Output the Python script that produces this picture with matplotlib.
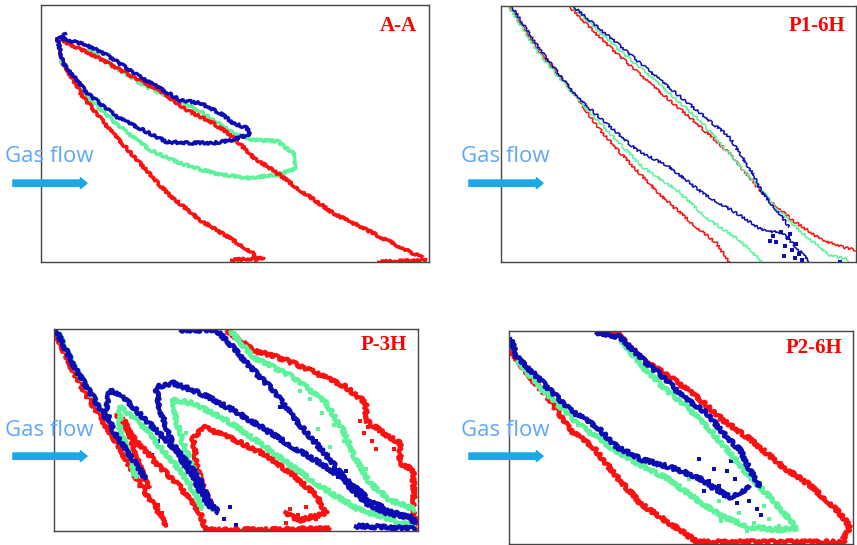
import matplotlib
matplotlib.use("Agg")
import matplotlib.pyplot as plt

RED = "#ff1010"
BLUE = "#0c0cb4"
GREEN = "#5ef29a"

# ---- section A-A (domain 388 x 257) ----
aa_red_lower = [(16, 32), (22, 58), (42, 92), (69, 125), (99, 158), (126, 188),
                (159, 215), (192, 235), (212, 248), (216, 257)]
aa_red_foot = [(189, 255), (224, 253)]
aa_red_upper = [(16, 32), (26, 38), (52, 50), (92, 72), (122, 88), (146, 105),
                (172, 118), (192, 132), (212, 152), (236, 168), (259, 185),
                (292, 208), (326, 225), (359, 242), (382, 253)]
aa_red_tail = [(336, 257), (386, 255)]
aa_blue_upper = [(26, 28), (19, 33), (46, 40), (69, 52), (99, 72), (122, 85),
                 (139, 95), (159, 98), (179, 108), (192, 118), (206, 123),
                 (209, 130), (199, 132)]
aa_blue_lower = [(16, 32), (22, 58), (46, 88), (76, 112), (102, 125), (126, 137),
                 (152, 138), (172, 138), (192, 135), (199, 132)]
aa_green_lower = [(19, 55), (49, 95), (79, 122), (109, 145), (139, 158),
                  (172, 168), (206, 173), (236, 170), (254, 164), (252, 148),
                  (236, 136), (212, 135), (192, 128)]
aa_green_upper = [(46, 44), (102, 80), (132, 94), (159, 106), (192, 128)]

# ---- section P1-6H (domain 356 x 256) ----
p1_red_a = [(9, 1), (39, 47), (72, 87), (102, 127), (129, 157), (162, 191),
            (196, 221), (216, 237), (229, 256)]
p1_green_a = [(8, 1), (38, 48), (72, 88), (106, 124), (142, 161), (176, 184),
              (209, 214), (239, 234), (262, 256)]
p1_blue_a = [(11, 1), (40, 45), (76, 91), (102, 114), (136, 144), (169, 161),
             (202, 187), (236, 207), (262, 224), (282, 227), (289, 234),
             (300, 245), (309, 256)]
p1_red_b = [(69, 1), (109, 41), (149, 77), (189, 111), (229, 147), (262, 187),
            (292, 214), (322, 234), (346, 242), (356, 244)]
p1_green_b = [(72, 1), (116, 42), (162, 81), (202, 117), (246, 167), (276, 201),
              (302, 227), (329, 249), (349, 254)]
p1_blue_b = [(73, 1), (116, 37), (156, 71), (196, 104), (229, 131), (252, 167),
             (262, 187), (279, 207), (289, 221)]
p1_blue_bits_x = [273, 276, 281, 285, 288, 292, 296, 299, 302, 284, 290, 270, 295, 340]
p1_blue_bits_y = [230, 236, 226, 240, 232, 244, 238, 248, 254, 250, 228, 235, 252, 256]

# ---- section P-3H (domain 364 x 202) ----
p3_trunk_red = [(1, 3), (20, 44), (36, 72), (50, 94)]
p3_trunk_green = [(3, 2), (23, 42), (40, 70), (54, 92)]
p3_trunk = [(2, 1), (22, 41), (39, 68), (52, 91)]
p3_red_outer = [(50, 94), (64, 116), (77, 140), (90, 162), (104, 182), (112, 198)]
p3_red_mid = [(62, 84), (79, 108), (102, 134), (126, 158), (146, 184), (152, 201),
              (200, 201), (250, 200), (276, 200)]
p3_red_loop = [(160, 182), (150, 160), (143, 138), (139, 110), (149, 98),
               (179, 110), (212, 126), (239, 146), (262, 166), (272, 184),
               (246, 191), (229, 184)]
p3_red_small = [(69, 88), (76, 106), (82, 128), (90, 148), (95, 160)]
p3_red_right = [(172, 1), (199, 21), (232, 31), (262, 44), (292, 58), (312, 74),
                (312, 91), (329, 104), (346, 114), (346, 134), (359, 141),
                (361, 201)]
p3_blue_right = [(162, 1), (179, 18), (196, 38), (219, 61), (239, 88), (259, 111),
                 (279, 134), (296, 158), (312, 174), (332, 184), (362, 189)]
p3_green_right = [(176, 1), (199, 28), (239, 48), (272, 74), (289, 101),
                  (302, 131), (316, 154), (336, 171), (362, 181)]
p3_blue_big = [(159, 181), (149, 168), (139, 148), (126, 128), (116, 108),
               (106, 81), (102, 58), (119, 54), (146, 64), (179, 81), (212, 101),
               (239, 118), (266, 134), (296, 154), (319, 174), (362, 193)]
p3_green_big = [(159, 183), (149, 161), (139, 138), (129, 114), (122, 91),
                (119, 71), (139, 74), (172, 91), (206, 114), (239, 138),
                (272, 161), (306, 181), (362, 198)]
p3_blue_small = [(92, 151), (86, 141), (72, 121), (59, 101), (52, 81), (56, 61),
                 (72, 71), (92, 91), (112, 111), (132, 131), (146, 151),
                 (156, 174), (165, 184)]
p3_green_small = [(82, 150), (76, 128), (66, 100), (66, 78), (86, 94), (106, 118),
                  (126, 141), (139, 161), (149, 181)]
p3_blue_edge = [(125, 1), (162, 1)]
p3_blue_low = [(300, 197), (330, 198), (362, 200)]
p3_red_bits_x = [306, 310, 318, 322, 314, 108, 110, 104, 112, 236, 244, 252, 262, 270, 232, 340]
p3_red_bits_y = [92, 104, 112, 120, 98, 184, 190, 176, 196, 180, 186, 178, 190, 184, 194, 120]
p3_blue_bits_x = [162, 170, 176, 182, 226, 240, 250, 262, 284, 292, 104, 110, 98]
p3_blue_bits_y = [182, 190, 178, 196, 78, 90, 102, 112, 148, 142, 112, 96, 126]
p3_green_bits_x = [246, 256, 268, 280, 290, 300, 312, 320, 264, 276, 126, 132]
p3_green_bits_y = [62, 70, 84, 96, 112, 124, 140, 160, 100, 118, 98, 104]

# ---- section P2-6H (domain 344 x 213) ----
p4_red_lower = [(1, 19), (21, 46), (41, 69), (61, 99), (84, 116), (108, 146),
                (131, 172), (151, 186), (171, 199), (188, 211)]
p4_red_floor = [(186, 211), (250, 211), (338, 211)]
p4_red_upper = [(88, 1), (108, 2), (134, 29), (161, 46), (188, 66), (214, 89),
                (238, 106), (254, 119), (274, 136), (298, 152), (321, 172),
                (334, 186), (341, 196), (334, 209)]
p4_blue_upper = [(86, 1), (111, 6), (134, 29), (154, 46), (174, 66), (198, 82),
                 (214, 102), (231, 119), (241, 139), (251, 156)]
p4_green_upper = [(111, 8), (134, 36), (154, 56), (181, 79), (201, 99),
                  (221, 122), (241, 146), (261, 166), (281, 189), (288, 199)]
p4_blue_lower = [(1, 6), (8, 26), (34, 52), (61, 79), (88, 96), (108, 116),
                 (134, 129), (161, 136), (188, 146), (208, 159), (221, 166),
                 (241, 156)]
p4_green_lower = [(8, 29), (34, 59), (68, 92), (101, 116), (128, 132),
                  (161, 149), (188, 169), (214, 186), (241, 196), (271, 199),
                  (288, 196)]
p4_blue_bits_x = [190, 200, 210, 218, 226, 234, 240, 205, 215, 228, 248, 252, 195, 222]
p4_blue_bits_y = [128, 150, 155, 140, 148, 160, 170, 138, 165, 172, 178, 184, 160, 130]
p4_green_bits_x = [170, 185, 200, 212, 230, 245, 260, 180, 210, 238, 255, 270]
p4_green_bits_y = [158, 165, 178, 190, 182, 192, 188, 148, 170, 200, 175, 195]


def trace(ax, pts, color, lw, rough=1.2):
    xs = [p[0] for p in pts]
    ys = [p[1] for p in pts]
    line, = ax.plot(xs, ys, color=color, lw=lw, solid_capstyle="butt")
    line.set_sketch_params(scale=rough, length=4, randomness=12)
    return line


def panel(rect, w, h, title):
    ax = fig.add_axes(rect)
    ax.set_xlim(0, w)
    ax.set_ylim(h, 0)
    ax.set_xticks([])
    ax.set_yticks([])
    for s in ax.spines.values():
        s.set_color("#444444")
        s.set_linewidth(1.0)
    ax.text(0.97, 0.92, title, transform=ax.transAxes, ha="right", va="center",
            color="#ff0000", fontsize=15, fontweight="bold",
            family="Liberation Serif")
    return ax


def gas_flow(x, y):
    fig.text(x, y, "Gas flow", color="#60a8f4", fontsize=16, family="Open Sans",
             va="center", ha="left", zorder=5)
    fig.add_artist(matplotlib.patches.FancyArrowPatch(
        (x + 0.006, y - 0.048), (x + 0.099, y - 0.048),
        transform=fig.transFigure, arrowstyle="simple,head_length=0.4,head_width=0.65,tail_width=0.38",
        mutation_scale=12, color="#1aa8e6", zorder=5))


fig = plt.figure(figsize=(8.57, 5.45), dpi=100)

ax1 = panel([41 / 857, 1 - 262 / 545, 388 / 857, 257 / 545], 388, 257, "A-A")
for pts, c in [(aa_green_lower, GREEN), (aa_green_upper, GREEN),
               (aa_red_lower, RED), (aa_red_foot, RED), (aa_red_upper, RED),
               (aa_red_tail, RED), (aa_blue_upper, BLUE), (aa_blue_lower, BLUE)]:
    trace(ax1, pts, c, 2.4)

ax2 = panel([501 / 857, 1 - 262 / 545, 355 / 857, 256 / 545], 356, 256, "P1-6H")
for pts, c in [(p1_red_a, RED), (p1_red_b, RED), (p1_green_a, GREEN),
               (p1_green_b, GREEN), (p1_blue_a, BLUE), (p1_blue_b, BLUE)]:
    trace(ax2, pts, c, 1.1)
ax2.scatter(p1_blue_bits_x, p1_blue_bits_y, s=5, marker="s", color=BLUE, lw=0)

ax3 = panel([54 / 857, 1 - 531 / 545, 364 / 857, 202 / 545], 364, 202, "P-3H")
for pts, c in [(p3_trunk_red, RED), (p3_red_outer, RED), (p3_red_mid, RED),
               (p3_red_loop, RED), (p3_red_small, RED), (p3_red_right, RED),
               (p3_trunk_green, GREEN), (p3_green_right, GREEN),
               (p3_green_big, GREEN), (p3_green_small, GREEN),
               (p3_trunk, BLUE), (p3_blue_right, BLUE), (p3_blue_big, BLUE),
               (p3_blue_small, BLUE), (p3_blue_edge, BLUE), (p3_blue_low, BLUE)]:
    trace(ax3, pts, c, 3.0, rough=1.8)
ax3.scatter(p3_red_bits_x, p3_red_bits_y, s=10, marker="s", color=RED, lw=0)
ax3.scatter(p3_green_bits_x, p3_green_bits_y, s=10, marker="s", color=GREEN, lw=0)
ax3.scatter(p3_blue_bits_x, p3_blue_bits_y, s=10, marker="s", color=BLUE, lw=0)

ax4 = panel([509 / 857, 1 - 544 / 545, 344 / 857, 213 / 545], 344, 213, "P2-6H")
for pts, c in [(p4_red_lower, RED), (p4_red_floor, RED), (p4_red_upper, RED),
               (p4_green_upper, GREEN), (p4_green_lower, GREEN),
               (p4_blue_upper, BLUE), (p4_blue_lower, BLUE)]:
    trace(ax4, pts, c, 3.0, rough=1.8)
ax4.scatter(p4_green_bits_x, p4_green_bits_y, s=10, marker="s", color=GREEN, lw=0)
ax4.scatter(p4_blue_bits_x, p4_blue_bits_y, s=11, marker="s", color=BLUE, lw=0)

gas_flow(5 / 857, 1 - 157 / 545)
gas_flow(461 / 857, 1 - 157 / 545)
gas_flow(5 / 857, 1 - 430 / 545)
gas_flow(461 / 857, 1 - 430 / 545)

fig.savefig("out.png", dpi=100)
